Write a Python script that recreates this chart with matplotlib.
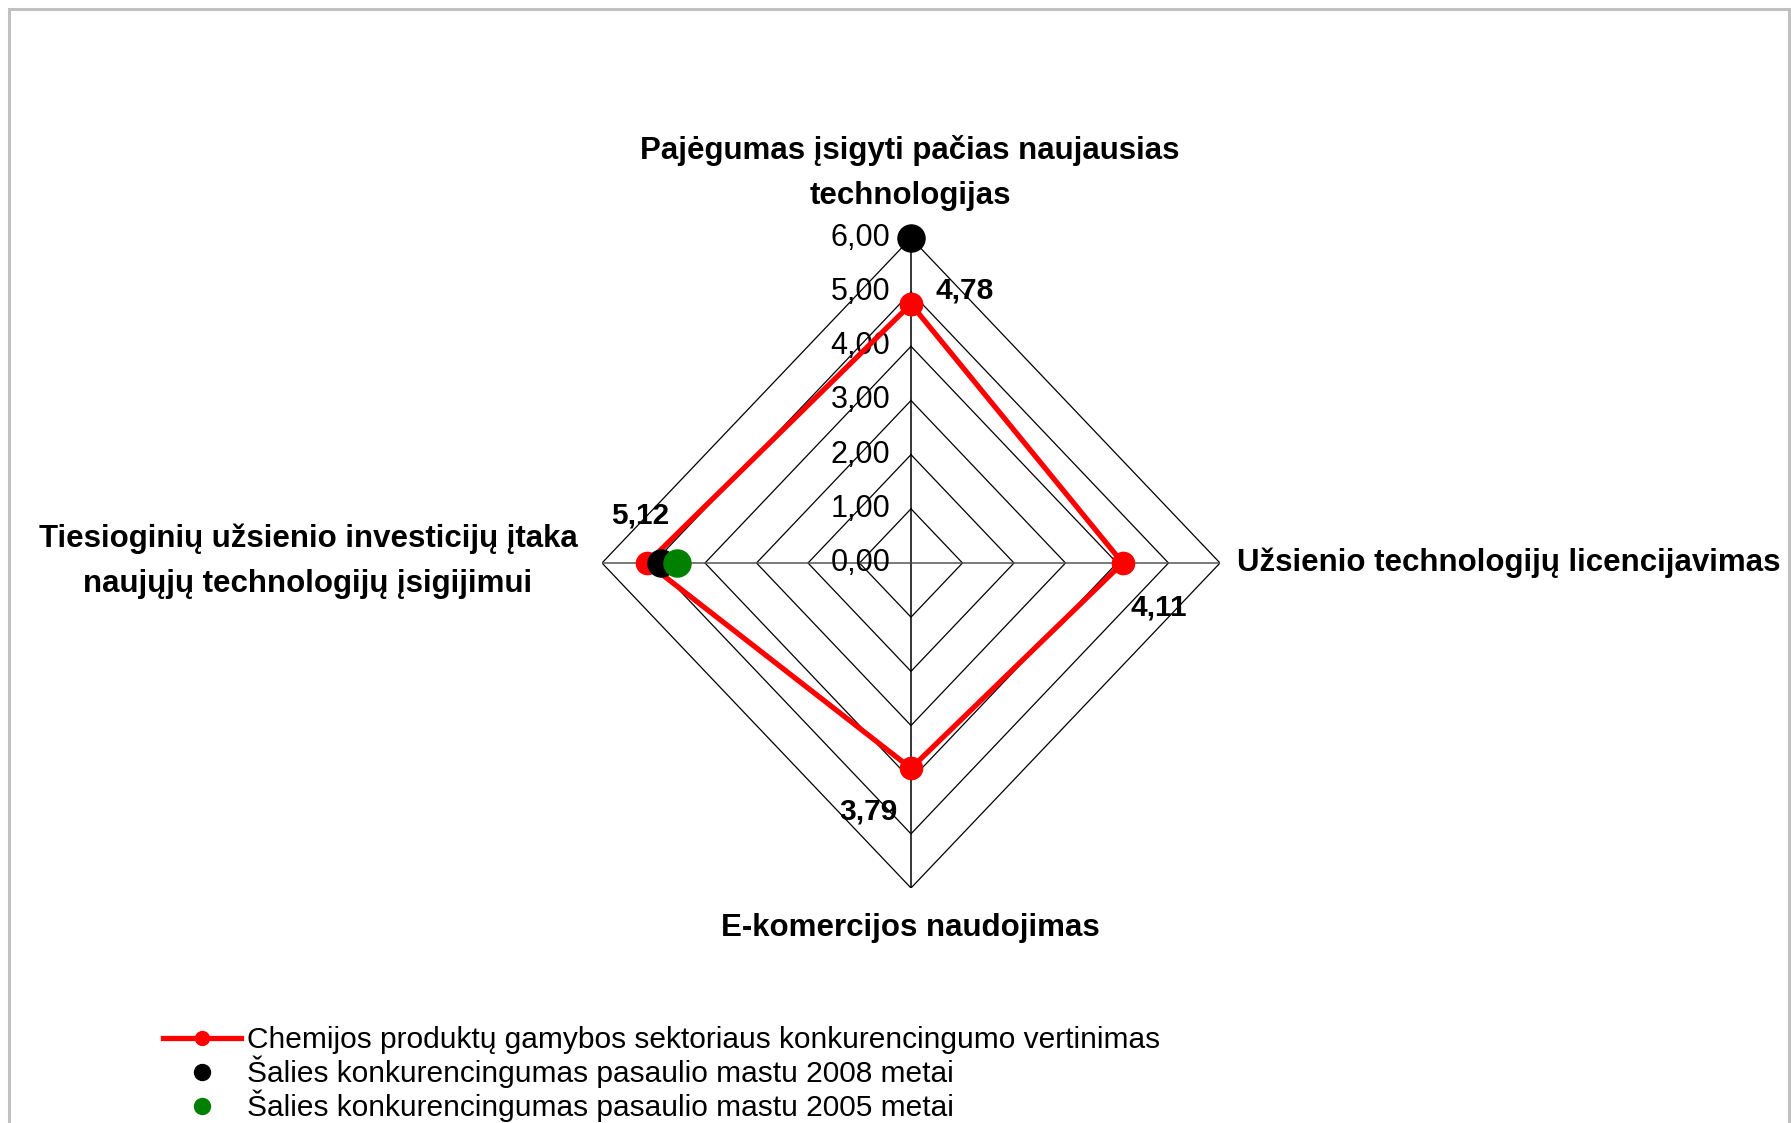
import numpy as np
import matplotlib
matplotlib.use("Agg")
import matplotlib.pyplot as plt
from matplotlib.lines import Line2D
from matplotlib.patches import Rectangle

# ---------------- data ----------------
categories = [
    "Pajėgumas įsigyti pačias naujausias\ntechnologijas",
    "Užsienio technologijų licencijavimas",
    "E-komercijos naudojimas",
    "Tiesioginių užsienio investicijų įtaka\nnaujųjų technologijų įsigijimui",
]
sector_values = [4.78, 4.11, 3.79, 5.12]
country_2008 = [6.0, np.nan, np.nan, 4.85]
country_2005 = [np.nan, np.nan, np.nan, 4.55]
value_labels = ["4,78", "4,11", "3,79", "5,12"]
ring_values = [0, 1, 2, 3, 4, 5, 6]
ring_labels = ["0,00", "1,00", "2,00", "3,00", "4,00", "5,00", "6,00"]
series_names = [
    "Chemijos produktų gamybos sektoriaus konkurencingumo vertinimas",
    "Šalies konkurencingumas pasaulio mastu 2008 metai",
    "Šalies konkurencingumas pasaulio mastu 2005 metai",
]

plt.rcParams["font.family"] = ["Liberation Sans", "DejaVu Sans"]

W, H = 1791, 1123
fig = plt.figure(figsize=(W / 100, H / 100), dpi=100)
fig.patch.set_facecolor("white")

def fx(x):
    return x / W

def fy(y):
    return 1 - y / H

# outer frame
fig.add_artist(Rectangle((fx(9), fy(1140)), fx(1789) - fx(9), fy(9) - fy(1140),
                         transform=fig.transFigure, fill=False,
                         edgecolor="#c0c0c0", linewidth=2.2))

# radar axes (center 911,563 ; horizontal radius 309 px, vertical 325 px)
cx, cy, rx, ry = 911, 563, 309, 325
ax = fig.add_axes([fx(cx - rx), fy(cy + ry), 2 * rx / W, 2 * ry / H])
ax.set_xlim(-6, 6)
ax.set_ylim(-6, 6)
ax.axis("off")

n = len(categories)
angles = np.pi / 2 - np.arange(n) * 2 * np.pi / n

def xy(vals):
    v = np.asarray(vals, dtype=float)
    return v * np.cos(angles), v * np.sin(angles)

# rings
for r in ring_values[1:]:
    x, y = xy([r] * n)
    ax.plot(np.append(x, x[0]), np.append(y, y[0]), color="black", lw=0.9, zorder=1)
# spokes
rmax = ring_values[-1]
for i, a in enumerate(angles):
    col = "black" if i % 2 == 0 else "#555555"
    ax.plot([0, rmax * np.cos(a) * (1.0 if i % 2 == 0 else 1.03)],
            [0, rmax * np.sin(a)], color=col, lw=1.1, zorder=1)

# ring labels on the vertical axis
for r, lab in zip(ring_values, ring_labels):
    ax.text(-0.4, r, lab, ha="right", va="center", fontsize=22, color="black", zorder=2)

# sector series
sx, sy = xy(sector_values)
ax.plot(np.append(sx, sx[0]), np.append(sy, sy[0]), color="#ff0000", lw=3.8,
        marker="o", markersize=16, markerfacecolor="#ff0000", markeredgecolor="#ff0000",
        zorder=3, clip_on=False)

bx, by = xy(country_2008)
ax.plot(bx, by, linestyle="none", marker="o", markersize=19.5, color="black", zorder=4, clip_on=False)
gx, gy = xy(country_2005)
ax.plot(gx, gy, linestyle="none", marker="o", markersize=19.5, color="#008000", zorder=5, clip_on=False)

# value labels
offsets = [(54, 14), (36, -44), (-43, -43), (-7, 47)]
for x, y, lab, off in zip(sx, sy, value_labels, offsets):
    ax.annotate(lab, (x, y), xytext=off, textcoords="offset pixels",
                ha="center", va="center", fontsize=21.5, fontweight="bold", zorder=6)

# category labels
cat_fs = 22.5
fig.text(fx(910), fy(173), categories[0], ha="center", va="center", fontsize=cat_fs,
         fontweight="bold", linespacing=1.65)
fig.text(fx(1237), fy(563), categories[1], ha="left", va="center", fontsize=cat_fs,
         fontweight="bold")
fig.text(fx(910), fy(928), categories[2], ha="center", va="center", fontsize=cat_fs,
         fontweight="bold")
fig.text(fx(308), fy(561), categories[3], ha="center", va="center", fontsize=cat_fs,
         fontweight="bold", linespacing=1.65)

# legend
handles = [
    Line2D([], [], color="#ff0000", lw=3.8, marker="o", markersize=10),
    Line2D([], [], color="black", linestyle="none", marker="o", markersize=11.5),
    Line2D([], [], color="#008000", linestyle="none", marker="o", markersize=11.5),
]
fig.legend(handles, series_names, loc="upper left",
           bbox_to_anchor=(fx(163), fy(1026)), frameon=False, fontsize=21.5,
           handlelength=2.6, handletextpad=0.2, labelspacing=0.05, borderpad=0,
           borderaxespad=0)

fig.savefig("out.png", dpi=100, facecolor="white")
